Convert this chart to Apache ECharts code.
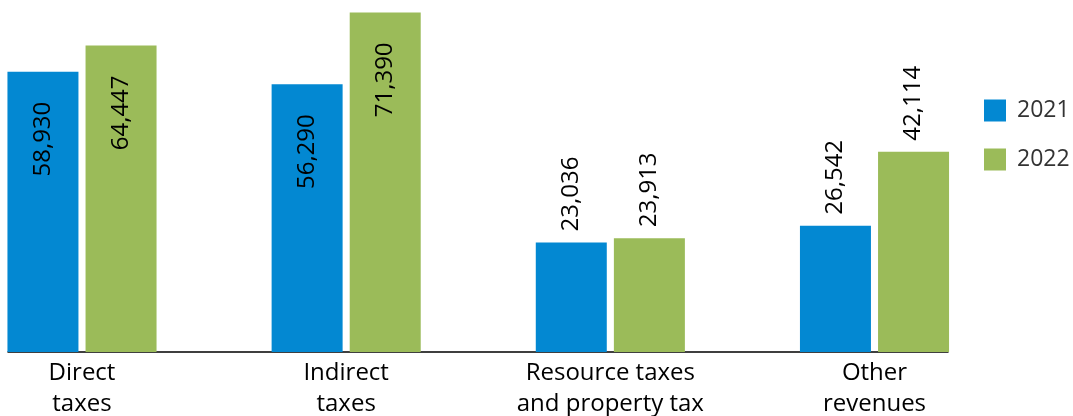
<!DOCTYPE html>
<html>
<head>
<meta charset="utf-8">
<script src="https://cdn.jsdelivr.net/npm/echarts@6/dist/echarts.min.js"></script>
<style>
  html, body { margin: 0; padding: 0; background: #fff; }
  #chart { width: 1073px; height: 416px; }
</style>
</head>
<body>
<div id="chart"></div>
<script>
// Revenue by type, 2021 vs 2022
const categories = ['Direct\ntaxes', 'Indirect\ntaxes', 'Resource taxes\nand property tax', 'Other\nrevenues'];
const seriesNames = ['2021', '2022'];
const values2021 = [58930, 56290, 23036, 26542];
const values2022 = [64447, 71390, 23913, 42114];

const colors = ['#0388d2', '#9bbb59'];
const FONT = '"Open Sans", "Segoe UI", sans-serif';

// Tall bars carry their value inside the bar top; short bars carry it above.
function buildData(values) {
  return values.map(v => {
    const inside = v > 50000;
    return {
      value: v,
      label: inside
        ? { position: 'insideTop', distance: 30, align: 'right' }
        : { position: 'top', distance: 11, align: 'left' }
    };
  });
}

function barSeries(name, values, color) {
  return {
    name: name,
    type: 'bar',
    xAxisIndex: 0,
    yAxisIndex: 0,
    clip: false,
    barWidth: 71,
    barGap: '10%',
    itemStyle: { color: color },
    label: {
      show: true,
      rotate: 90,
      verticalAlign: 'middle',
      color: '#000',
      fontFamily: FONT,
      fontSize: 24,
      formatter: p => p.value.toLocaleString('en-US')
    },
    data: buildData(values)
  };
}

const chart = echarts.init(document.getElementById('chart'), null, { renderer: 'canvas' });
chart.setOption({
  animation: false,
  backgroundColor: '#fff',
  legend: {
    orient: 'vertical',
    left: 984,
    top: 99,
    padding: 0,
    itemWidth: 22,
    itemHeight: 22,
    itemGap: 26,
    icon: 'rect',
    textStyle: { fontFamily: FONT, fontSize: 23, color: '#333', padding: [0, 0, 0, 6] },
    data: seriesNames
  },
  grid: [
    // category points sit on the group centres; bars spill past the grid edges
    { left: 82, right: 198.5, top: 0, bottom: 64, outerBoundsMode: 'none' },
    // baseline that runs from the first bar to the last one
    { left: 8, right: 125, top: 0, bottom: 64, outerBoundsMode: 'none' }
  ],
  xAxis: [
    {
      type: 'category',
      gridIndex: 0,
      boundaryGap: false,
      data: categories,
      axisLine: { show: false },
      axisTick: { show: false },
      splitLine: { show: false },
      axisLabel: {
        color: '#000',
        fontFamily: FONT,
        fontSize: 24,
        lineHeight: 31,
        margin: 6,
        interval: 0
      }
    },
    {
      type: 'value',
      gridIndex: 1,
      min: 0,
      max: 1,
      axisLine: { show: true, lineStyle: { color: '#000', width: 1.5 } },
      axisTick: { show: false },
      axisLabel: { show: false },
      splitLine: { show: false }
    }
  ],
  yAxis: [
    { type: 'value', gridIndex: 0, min: 0, max: 74000, show: false },
    { type: 'value', gridIndex: 1, min: 0, max: 1, show: false }
  ],
  series: [
    barSeries(seriesNames[0], values2021, colors[0]),
    barSeries(seriesNames[1], values2022, colors[1])
  ]
});
</script>
</body>
</html>
